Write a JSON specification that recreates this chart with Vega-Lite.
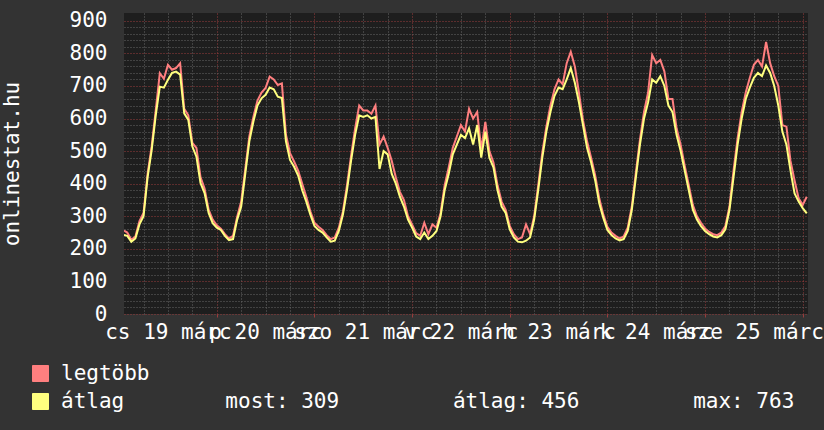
{
  "$schema": "https://vega.github.io/schema/vega-lite/v6.json",
  "width": 684,
  "height": 301,
  "autosize": {"type": "none"},
  "padding": {"left": 124, "top": 13, "right": 16, "bottom": 116},
  "background": "#333333",
  "view": {"fill": "#1e1e1e", "stroke": null},
  "config": {"font": "DejaVu Sans Mono"},
  "data": {"values": [
    {"h": 1.2, "legtöbb": 256, "átlag": 243},
    {"h": 2, "legtöbb": 250, "átlag": 240},
    {"h": 3, "legtöbb": 228, "átlag": 222},
    {"h": 4, "legtöbb": 238, "átlag": 232},
    {"h": 5, "legtöbb": 285, "átlag": 275},
    {"h": 6, "legtöbb": 310, "átlag": 300},
    {"h": 7, "legtöbb": 430, "átlag": 420},
    {"h": 8, "legtöbb": 515, "átlag": 503},
    {"h": 9, "legtöbb": 625, "átlag": 610},
    {"h": 10, "legtöbb": 739, "átlag": 698},
    {"h": 11, "legtöbb": 722, "átlag": 695},
    {"h": 12, "legtöbb": 765, "átlag": 719},
    {"h": 13, "legtöbb": 750, "átlag": 740},
    {"h": 14, "legtöbb": 755, "átlag": 744},
    {"h": 15, "legtöbb": 770, "átlag": 735},
    {"h": 16, "legtöbb": 630, "átlag": 616},
    {"h": 17, "legtöbb": 610, "átlag": 596},
    {"h": 18, "legtöbb": 525, "átlag": 514},
    {"h": 19, "legtöbb": 510, "átlag": 483},
    {"h": 20, "legtöbb": 420, "átlag": 402},
    {"h": 21, "legtöbb": 385, "átlag": 371},
    {"h": 22, "legtöbb": 320, "átlag": 310},
    {"h": 23, "legtöbb": 290, "átlag": 279},
    {"h": 24, "legtöbb": 272, "átlag": 265},
    {"h": 25, "legtöbb": 262, "átlag": 258},
    {"h": 26, "legtöbb": 245, "átlag": 240},
    {"h": 27, "legtöbb": 232, "átlag": 227},
    {"h": 28, "legtöbb": 240, "átlag": 230},
    {"h": 29, "legtöbb": 298, "átlag": 289},
    {"h": 30, "legtöbb": 345, "átlag": 330},
    {"h": 31, "legtöbb": 445, "átlag": 430},
    {"h": 32, "legtöbb": 545, "átlag": 530},
    {"h": 33, "legtöbb": 605, "átlag": 591},
    {"h": 34, "legtöbb": 655, "átlag": 640},
    {"h": 35, "legtöbb": 680, "átlag": 662},
    {"h": 36, "legtöbb": 694, "átlag": 673},
    {"h": 37, "legtöbb": 729, "átlag": 695},
    {"h": 38, "legtöbb": 720, "átlag": 690},
    {"h": 39, "legtöbb": 703, "átlag": 667},
    {"h": 40, "legtöbb": 708, "átlag": 663},
    {"h": 41, "legtöbb": 550, "átlag": 530},
    {"h": 42, "legtöbb": 494, "átlag": 473},
    {"h": 43, "legtöbb": 468, "átlag": 452},
    {"h": 44, "legtöbb": 440, "átlag": 425},
    {"h": 45, "legtöbb": 400, "átlag": 380},
    {"h": 46, "legtöbb": 360, "átlag": 345},
    {"h": 47, "legtöbb": 315, "átlag": 305},
    {"h": 48, "legtöbb": 280, "átlag": 270},
    {"h": 49, "legtöbb": 268, "átlag": 258},
    {"h": 50, "legtöbb": 258, "átlag": 250},
    {"h": 51, "legtöbb": 242, "átlag": 235},
    {"h": 52, "legtöbb": 230, "átlag": 222},
    {"h": 53, "legtöbb": 235, "átlag": 225},
    {"h": 54, "legtöbb": 265, "átlag": 255},
    {"h": 55, "legtöbb": 315, "átlag": 305},
    {"h": 56, "legtöbb": 395, "átlag": 380},
    {"h": 57, "legtöbb": 485, "átlag": 470},
    {"h": 58, "legtöbb": 570, "átlag": 550},
    {"h": 59, "legtöbb": 640, "átlag": 610},
    {"h": 60, "legtöbb": 625, "átlag": 605},
    {"h": 61, "legtöbb": 625, "átlag": 610},
    {"h": 62, "legtöbb": 615, "átlag": 600},
    {"h": 63, "legtöbb": 640, "átlag": 605},
    {"h": 64, "legtöbb": 520, "átlag": 445},
    {"h": 65, "legtöbb": 545, "átlag": 500},
    {"h": 66, "legtöbb": 510, "átlag": 490},
    {"h": 67, "legtöbb": 470, "átlag": 430},
    {"h": 68, "legtöbb": 420, "átlag": 400},
    {"h": 69, "legtöbb": 375, "átlag": 360},
    {"h": 70, "legtöbb": 350, "átlag": 330},
    {"h": 71, "legtöbb": 300, "átlag": 290},
    {"h": 72, "legtöbb": 275, "átlag": 265},
    {"h": 73, "legtöbb": 248, "átlag": 238},
    {"h": 74, "legtöbb": 240, "átlag": 230},
    {"h": 75, "legtöbb": 280, "átlag": 250},
    {"h": 76, "legtöbb": 245, "átlag": 230},
    {"h": 77, "legtöbb": 275, "átlag": 240},
    {"h": 78, "legtöbb": 265, "átlag": 255},
    {"h": 79, "legtöbb": 310, "átlag": 300},
    {"h": 80, "legtöbb": 395, "átlag": 380},
    {"h": 81, "legtöbb": 450, "átlag": 430},
    {"h": 82, "legtöbb": 510, "átlag": 490},
    {"h": 83, "legtöbb": 545, "átlag": 520},
    {"h": 84, "legtöbb": 580, "átlag": 550},
    {"h": 85, "legtöbb": 560, "átlag": 540},
    {"h": 86, "legtöbb": 630, "átlag": 570},
    {"h": 87, "legtöbb": 600, "átlag": 520},
    {"h": 88, "legtöbb": 620, "átlag": 580},
    {"h": 89, "legtöbb": 505, "átlag": 480},
    {"h": 90, "legtöbb": 590, "átlag": 560},
    {"h": 91, "legtöbb": 500, "átlag": 480},
    {"h": 92, "legtöbb": 465, "átlag": 450},
    {"h": 93, "legtöbb": 395, "átlag": 380},
    {"h": 94, "legtöbb": 345, "átlag": 330},
    {"h": 95, "legtöbb": 320, "átlag": 310},
    {"h": 96, "legtöbb": 270, "átlag": 260},
    {"h": 97, "legtöbb": 245, "átlag": 235},
    {"h": 98, "legtöbb": 230, "átlag": 222},
    {"h": 99, "legtöbb": 235, "átlag": 220},
    {"h": 100, "legtöbb": 275, "átlag": 225},
    {"h": 101, "legtöbb": 245, "átlag": 235},
    {"h": 102, "legtöbb": 300, "átlag": 290},
    {"h": 103, "legtöbb": 395, "átlag": 380},
    {"h": 104, "legtöbb": 495, "átlag": 480},
    {"h": 105, "legtöbb": 575, "átlag": 560},
    {"h": 106, "legtöbb": 640, "átlag": 620},
    {"h": 107, "legtöbb": 690, "átlag": 670},
    {"h": 108, "legtöbb": 720, "átlag": 695},
    {"h": 109, "legtöbb": 705, "átlag": 690},
    {"h": 110, "legtöbb": 770, "átlag": 720},
    {"h": 111, "legtöbb": 805, "átlag": 755},
    {"h": 112, "legtöbb": 760, "átlag": 710},
    {"h": 113, "legtöbb": 680, "átlag": 650},
    {"h": 114, "legtöbb": 595, "átlag": 580},
    {"h": 115, "legtöbb": 530, "átlag": 510},
    {"h": 116, "legtöbb": 480, "átlag": 465},
    {"h": 117, "legtöbb": 425, "átlag": 410},
    {"h": 118, "legtöbb": 355, "átlag": 340},
    {"h": 119, "legtöbb": 305, "átlag": 295},
    {"h": 120, "legtöbb": 268, "átlag": 258},
    {"h": 121, "legtöbb": 250, "átlag": 242},
    {"h": 122, "legtöbb": 240, "átlag": 232},
    {"h": 123, "legtöbb": 232, "átlag": 226},
    {"h": 124, "legtöbb": 238, "átlag": 230},
    {"h": 125, "legtöbb": 265, "átlag": 255},
    {"h": 126, "legtöbb": 330, "átlag": 320},
    {"h": 127, "legtöbb": 435, "átlag": 420},
    {"h": 128, "legtöbb": 535, "átlag": 520},
    {"h": 129, "legtöbb": 620, "átlag": 600},
    {"h": 130, "legtöbb": 680, "átlag": 650},
    {"h": 131, "legtöbb": 795, "átlag": 720},
    {"h": 132, "legtöbb": 770, "átlag": 710},
    {"h": 133, "legtöbb": 780, "átlag": 730},
    {"h": 134, "legtöbb": 745, "átlag": 700},
    {"h": 135, "legtöbb": 660, "átlag": 640},
    {"h": 136, "legtöbb": 660, "átlag": 620},
    {"h": 137, "legtöbb": 570, "átlag": 550},
    {"h": 138, "legtöbb": 520, "átlag": 500},
    {"h": 139, "legtöbb": 455, "átlag": 440},
    {"h": 140, "legtöbb": 395, "átlag": 380},
    {"h": 141, "legtöbb": 335, "átlag": 320},
    {"h": 142, "legtöbb": 300, "átlag": 290},
    {"h": 143, "legtöbb": 280, "átlag": 270},
    {"h": 144, "legtöbb": 262, "átlag": 255},
    {"h": 145, "legtöbb": 252, "átlag": 245},
    {"h": 146, "legtöbb": 245, "átlag": 238},
    {"h": 147, "legtöbb": 242, "átlag": 235},
    {"h": 148, "legtöbb": 250, "átlag": 242},
    {"h": 149, "legtöbb": 270, "átlag": 260},
    {"h": 150, "legtöbb": 330, "átlag": 320},
    {"h": 151, "legtöbb": 440, "átlag": 420},
    {"h": 152, "legtöbb": 540, "átlag": 520},
    {"h": 153, "legtöbb": 620, "átlag": 600},
    {"h": 154, "legtöbb": 680, "átlag": 660},
    {"h": 155, "legtöbb": 725, "átlag": 695},
    {"h": 156, "legtöbb": 765, "átlag": 725},
    {"h": 157, "legtöbb": 780, "átlag": 740},
    {"h": 158, "legtöbb": 760, "átlag": 730},
    {"h": 159, "legtöbb": 835, "átlag": 763},
    {"h": 160, "legtöbb": 770, "átlag": 740},
    {"h": 161, "legtöbb": 730, "átlag": 700},
    {"h": 162, "legtöbb": 700, "átlag": 640},
    {"h": 163, "legtöbb": 580, "átlag": 560},
    {"h": 164, "legtöbb": 575, "átlag": 520},
    {"h": 165, "legtöbb": 470, "átlag": 440},
    {"h": 166, "legtöbb": 410, "átlag": 370},
    {"h": 167, "legtöbb": 355, "átlag": 345},
    {"h": 168, "legtöbb": 335, "átlag": 325},
    {"h": 169, "legtöbb": 360, "átlag": 309}
  ]},
  "transform": [{"fold": ["legtöbb", "átlag"], "as": ["sor", "érték"]}],
  "mark": {"type": "line", "strokeWidth": 2, "interpolate": "linear", "clip": true},
  "encoding": {
    "x": {
      "field": "h",
      "type": "quantitative",
      "scale": {"domain": [1.2, 169.3], "nice": false, "zero": false},
      "axis": {
        "title": null,
        "values": [6, 12, 18, 24, 30, 36, 42, 48, 54, 60, 66, 72, 78, 84, 90, 96, 102, 108, 114, 120, 126, 132, 138, 144, 150, 156, 162, 168],
        "domain": false,
        "grid": true,
        "gridColor": {"condition": {"test": "datum.value % 24 === 0", "value": "#9a3c3c"}, "value": "#666666"},
        "gridDash": [1, 2],
        "gridWidth": 1,
        "ticks": true,
        "tickSize": 3,
        "tickColor": {"condition": {"test": "datum.value % 24 === 0", "value": "#9a3c3c"}, "value": "transparent"},
        "labelExpr": "datum.value % 24 === 12 ? ['cs 19 márc','p 20 márc','szo 21 márc','v 22 márc','h 23 márc','k 24 márc','sze 25 márc'][floor(datum.value / 24)] : ''",
        "labelColor": "#ffffff",
        "labelFont": "DejaVu Sans Mono",
        "labelFontSize": 21,
        "labelBaseline": "alphabetic",
        "labelPadding": 21,
        "labelOverlap": false,
        "labelFlush": false,
        "labelBound": false
      }
    },
    "y": {
      "field": "érték",
      "type": "quantitative",
      "scale": {"domain": [0, 924], "nice": false},
      "axis": {
        "title": "onlinestat.hu",
        "values": [0, 20, 40, 60, 80, 100, 120, 140, 160, 180, 200, 220, 240, 260, 280, 300, 320, 340, 360, 380, 400, 420, 440, 460, 480, 500, 520, 540, 560, 580, 600, 620, 640, 660, 680, 700, 720, 740, 760, 780, 800, 820, 840, 860, 880, 900],
        "domain": false,
        "ticks": false,
        "grid": true,
        "gridColor": {"condition": {"test": "datum.value % 100 === 0", "value": "#9a3c3c"}, "value": "#666666"},
        "gridDash": [1, 2],
        "gridWidth": 1,
        "labelExpr": "datum.value % 100 === 0 ? '' + datum.value : ''",
        "labelColor": "#ffffff",
        "labelFont": "DejaVu Sans Mono",
        "labelFontSize": 21,
        "labelBaseline": "middle",
        "labelPadding": 17,
        "labelOverlap": false,
        "titleColor": "#ffffff",
        "titleFont": "DejaVu Sans Mono",
        "titleFontSize": 21,
        "titleFontWeight": "normal",
        "titleAngle": -90,
        "titleX": -106,
        "titleY": 150.5,
        "titleAlign": "center",
        "titleBaseline": "alphabetic"
      }
    },
    "color": {
      "field": "sor",
      "type": "nominal",
      "scale": {"domain": ["legtöbb", "átlag"], "range": ["#ff7f7f", "#ffff7f"]},
      "legend": {
        "title": null,
        "orient": "none",
        "legendX": -94,
        "legendY": 350,
        "direction": "vertical",
        "padding": 0,
        "symbolType": "square",
        "symbolSize": 256,
        "symbolStrokeColor": "#000000",
        "symbolStrokeWidth": 1,
        "symbolOpacity": 1,
        "labelFont": "DejaVu Sans Mono",
        "labelFontSize": 21,
        "labelColor": "#ffffff",
        "labelOffset": 10,
        "labelLimit": 0,
        "rowPadding": 6,
        "labelExpr": "datum.label === 'átlag' ? 'átlag\u00a0\u00a0\u00a0\u00a0\u00a0\u00a0\u00a0\u00a0most:\u00a0309\u00a0\u00a0\u00a0\u00a0\u00a0\u00a0\u00a0\u00a0\u00a0átlag:\u00a0456\u00a0\u00a0\u00a0\u00a0\u00a0\u00a0\u00a0\u00a0\u00a0max:\u00a0763' : datum.label",
        "encode": {
          "symbols": {
            "update": {
              "fill": {"scale": "color", "field": "value"},
              "fillOpacity": {"value": 1},
              "stroke": {"value": "#000000"}
            }
          }
        }
      }
    }
  }
}
